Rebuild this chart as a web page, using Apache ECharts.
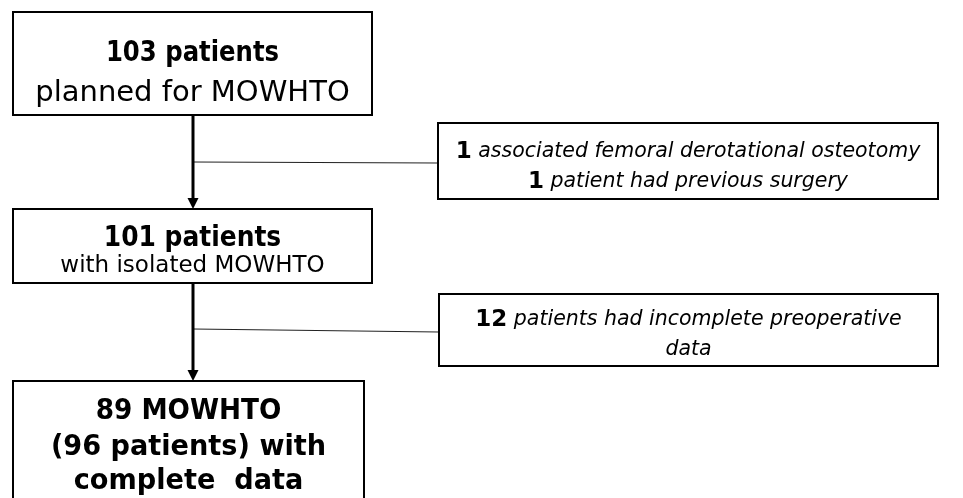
<!DOCTYPE html>
<html>
<head>
<meta charset="utf-8">
<script src="https://cdn.jsdelivr.net/npm/echarts@6/dist/echarts.min.js"></script>
<style>html,body{margin:0;padding:0;background:#fff}#c{width:963px;height:498px}</style>
</head>
<body>
<div id="c"></div>
<script>
// ---- content ----
const stageCounts = ['103', '101', '89'];
const stageTitleSuffix = [' patients', ' patients', ' MOWHTO'];
const stageSubLines = [['planned for MOWHTO'], ['with isolated MOWHTO'], ['(96 patients) with', 'complete  data']];
const exclusionCounts = [['1', '1'], ['12', '']];
const exclusionReasons = [[' associated femoral derotational osteotomy', ' patient had previous surgery'], [' patients had incomplete preoperative', 'data']];

// ---- layout (pixels) ----
const FONT = '"DejaVu Sans", sans-serif';
const mainBoxes = [
  {x0: 13, y0: 12, x1: 372, y1: 115, lineY: [53, 93], fonts: ['bold 29px ' + FONT, '29px ' + FONT], scales: [0.84, 1.0]},
  {x0: 13, y0: 209, x1: 372, y1: 283, lineY: [238, 266], fonts: ['bold 29px ' + FONT, '23px ' + FONT], scales: [0.86, 1.0]},
  {x0: 13, y0: 381, x1: 364, y1: 520, lineY: [412, 448, 482], fonts: ['bold 28px ' + FONT, 'bold 28px ' + FONT], scales: [0.94, 0.97]}
];
const sideBoxes = [
  {x0: 438, y0: 123, x1: 938, y1: 199, lineY: [152, 182]},
  {x0: 439, y0: 294, x1: 938, y1: 366, lineY: [320, 350]}
];
const connectors = [
  {x: 193, yTop: 115, yTip: 209, branchY0: 162, branchY1: 163, branchX1: 438},
  {x: 193, yTop: 283, yTip: 381, branchY0: 329, branchY1: 332, branchX1: 439}
];

const chart = echarts.init(document.getElementById('c'), null, {renderer: 'canvas'});

function mainRender(params, api) {
  const b = mainBoxes[params.dataIndex];
  const p0 = api.coord([b.x0, b.y0]);
  const p1 = api.coord([b.x1, b.y1]);
  const cx = (p0[0] + p1[0]) / 2;
  const children = [{
    type: 'rect',
    shape: {x: p0[0], y: p0[1], width: p1[0] - p0[0], height: p1[1] - p0[1]},
    style: {fill: '#fff', stroke: '#000', lineWidth: 2}
  }];
  const lines = [stageCounts[params.dataIndex] + stageTitleSuffix[params.dataIndex]].concat(stageSubLines[params.dataIndex]);
  lines.forEach((t, i) => {
    const y = api.coord([0, b.lineY[i]])[1];
    children.push({
      type: 'text',
      x: cx, y: y,
      scaleX: i === 0 ? b.scales[0] : b.scales[1],
      style: {text: t, x: 0, y: 0, fill: '#000', font: i === 0 ? b.fonts[0] : b.fonts[1], align: 'center', verticalAlign: 'middle'}
    });
  });
  return {type: 'group', children};
}

function sideRender(params, api) {
  const b = sideBoxes[params.dataIndex];
  const p0 = api.coord([b.x0, b.y0]);
  const p1 = api.coord([b.x1, b.y1]);
  const cx = (p0[0] + p1[0]) / 2;
  const children = [{
    type: 'rect',
    shape: {x: p0[0], y: p0[1], width: p1[0] - p0[0], height: p1[1] - p0[1]},
    style: {fill: '#fff', stroke: '#000', lineWidth: 2}
  }];
  exclusionReasons[params.dataIndex].forEach((r, i) => {
    const y = api.coord([0, b.lineY[i]])[1];
    const c = exclusionCounts[params.dataIndex][i];
    children.push({
      type: 'text',
      x: cx, y: y,
      style: {
        text: (c ? '{b|' + c + '}' : '') + '{i|' + r + '}',
        x: 0, y: 0, align: 'center', verticalAlign: 'middle',
        rich: {
          b: {font: 'bold 23px ' + FONT, fill: '#000'},
          i: {font: 'italic 20.5px ' + FONT, fill: '#000'}
        }
      }
    });
  });
  return {type: 'group', children};
}

function connRender(params, api) {
  const c = connectors[params.dataIndex];
  const top = api.coord([c.x, c.yTop]);
  const tip = api.coord([c.x, c.yTip]);
  const b0 = api.coord([c.x, c.branchY0]);
  const b1 = api.coord([c.branchX1, c.branchY1]);
  return {
    type: 'group',
    children: [
      {type: 'line', shape: {x1: b0[0], y1: b0[1], x2: b1[0], y2: b1[1]}, style: {stroke: '#222', lineWidth: 1.2}},
      {type: 'line', shape: {x1: top[0], y1: top[1], x2: tip[0], y2: tip[1] - 6}, style: {stroke: '#000', lineWidth: 3}},
      {type: 'polygon', shape: {points: [[tip[0] - 5.5, tip[1] - 11], [tip[0] + 5.5, tip[1] - 11], [tip[0], tip[1]]]}, style: {fill: '#000'}}
    ]
  };
}

chart.setOption({
  backgroundColor: '#fff',
  animation: false,
  grid: {left: 0, right: 0, top: 0, bottom: 0},
  xAxis: {type: 'value', min: 0, max: 963, show: false},
  yAxis: {type: 'value', min: 0, max: 498, inverse: true, show: false},
  series: [
    {type: 'custom', renderItem: connRender, data: connectors.map((_, i) => [i]), silent: true, z: 1},
    {type: 'custom', renderItem: mainRender, data: mainBoxes.map((_, i) => [i]), silent: true, z: 2},
    {type: 'custom', renderItem: sideRender, data: sideBoxes.map((_, i) => [i]), silent: true, z: 2}
  ]
});
</script>
</body>
</html>
